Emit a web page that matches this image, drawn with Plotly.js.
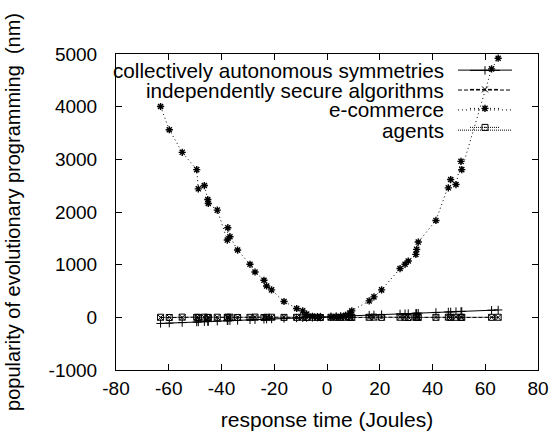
<!DOCTYPE html>
<html>
<head>
<meta charset="utf-8">
<script src="https://cdn.plot.ly/plotly-3.0.1.min.js"></script>
<style>html,body{margin:0;padding:0;background:#fff}#chart{width:554px;height:437px}</style>
</head>
<body>
<div id="chart"></div>
<script>
// Shared x values (response time, Joules)
const xValues = [-63.1,-59.8,-54.9,-49.4,-48.8,-46.5,-45.2,-45.0,-41.6,-37.8,-37.6,-36.8,-33.9,-29.2,-27.3,-23.9,-22.9,-21.0,-16.3,-11.5,-9.2,-7.7,-5.5,-3.6,-2.5,1.5,3.5,5.2,7.0,8.6,9.4,16.0,17.8,20.7,27.7,29.6,30.8,33.7,34.0,34.6,41.3,46.0,46.9,48.9,50.8,51.1,62.4,64.9];

const seriesNames = ["collectively autonomous symmetries","independently secure algorithms","e-commerce","agents"];

const collectively = [-116,-110,-100,-90,-88,-84,-80,-80,-74,-66,-65,-64,-58,-48,-45,-38,-36,-32,-22,-13,-8,-5,0,3,5,13,17,20,24,27,29,42,46,51,65,69,72,77,78,79,93,102,104,108,112,112,135,140];

const secure = [-4,2,-3,3,-2,1,-5,2,0,-3,4,-1,2,-4,1,3,-2,0,2,-1,1,-3,2,0,-2,1,3,-1,0,2,-3,1,-2,4,0,-1,2,-3,1,0,-2,3,-1,2,0,-4,1,-2];

const ecommerce = [4003,3562,3133,2805,2440,2502,2237,2162,2035,1467,1702,1531,1278,1007,861,704,596,521,301,168,123,61,20,5,0,0,5,15,40,80,123,312,388,521,926,1007,1070,1196,1291,1429,1840,2459,2616,2521,2962,2805,4717,4920];

const agents = [2,-3,4,1,-2,3,0,-4,2,1,-1,3,-2,0,4,-3,1,2,-1,0,3,-2,1,0,-3,2,1,-1,3,0,-2,1,4,-1,2,0,-3,1,2,-2,0,3,-1,1,-2,2,0,1];

const xTicks = [-80,-60,-40,-20,0,20,40,60,80];
const yTicks = [-1000,0,1000,2000,3000,4000,5000];

const FONT = "Liberation Sans, Arial, sans-serif";
const styles = [
  {dash:"solid", symbol:"cross-thin-open", mlw:1},
  {dash:"4px,2px", symbol:"x-thin-open", mlw:1},
  {dash:"1px,3px", symbol:"asterisk-open", mlw:1.4},
  {dash:"1px,1px", symbol:"square-open-dot", mlw:1}
];
const ys = [collectively, secure, ecommerce, agents];

const traces = ys.map((y,i)=>({
  type:"scatter", mode:"lines+markers", x:xValues, y:y, name:"",
  line:{color:"#000", width:1, dash:styles[i].dash},
  marker:{symbol:styles[i].symbol, size:6, color:"#000", line:{color:"#000", width:styles[i].mlw}},
  showlegend:true, cliponaxis:true
}));

// legend geometry (paper coords)
const rowsY = [0.949,0.886,0.823,0.759];
const annotations = seriesNames.map((n,i)=>({
  xref:"paper", yref:"paper", x:0.7820, y:rowsY[i], xanchor:"right", yanchor:"middle",
  text:n, showarrow:false, font:{family:FONT, size:20.7, color:"#000"}
}));
const shapes = rowsY.map((yy,i)=>({
  type:"line", xref:"paper", yref:"paper", x0:0.8104, x1:0.9384, y0:yy, y1:yy,
  line:{color:"#000", width:1, dash:styles[i].dash}
}));

const layout = {
  width:554, height:437,
  margin:{l:116, r:16, t:54, b:67},
  paper_bgcolor:"#fff", plot_bgcolor:"#fff",
  font:{family:FONT, size:19, color:"#000"},
  showlegend:true,
  legend:{x:0.827, y:0.994, xanchor:"left", yanchor:"top", bgcolor:"rgba(0,0,0,0)", font:{size:12}, itemwidth:30, tracegroupgap:0},
  xaxis:{range:[-80,80], tickvals:xTicks, ticktext:xTicks.map(String), ticks:"inside", ticklen:6, tickcolor:"#000",
    showline:true, linecolor:"#000", linewidth:1, mirror:"ticks", showgrid:false, zeroline:false,
    ticklabelstandoff:1,
    title:{text:"response time (Joules)", font:{family:FONT, size:21}, standoff:14}},
  yaxis:{range:[-1000,5000], tickvals:yTicks, ticktext:yTicks.map(String), ticks:"inside", ticklen:6, tickcolor:"#000",
    showline:true, linecolor:"#000", linewidth:1, mirror:"ticks", showgrid:false, zeroline:false,
    ticklabelstandoff:14,
    title:{text:"popularity of evolutionary programming  (nm)", font:{family:FONT, size:20}, standoff:22}},
  annotations:annotations, shapes:shapes
};

Plotly.newPlot("chart", traces, layout, {staticPlot:true, displayModeBar:false});
</script>
</body>
</html>
